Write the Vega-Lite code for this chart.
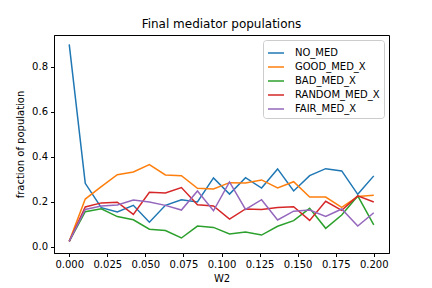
{
  "$schema": "https://vega.github.io/schema/vega-lite/v6.json",
  "width": 335,
  "height": 218,
  "autosize": {"type": "none"},
  "padding": {"left": 54, "top": 35, "right": 43, "bottom": 35},
  "background": "white",
  "title": {"text": "Final mediator populations", "fontSize": 12, "fontWeight": "normal", "font": "DejaVu Sans", "color": "black", "offset": 4},
  "data": {"values": [
    {"W2": 0, "NO_MED": 0.9, "GOOD_MED_X": 0.025, "BAD_MED_X": 0.025, "RANDOM_MED_X": 0.025, "FAIR_MED_X": 0.025},
    {"W2": 0.010526, "NO_MED": 0.283, "GOOD_MED_X": 0.213, "BAD_MED_X": 0.157, "RANDOM_MED_X": 0.178, "FAIR_MED_X": 0.167},
    {"W2": 0.021053, "NO_MED": 0.175, "GOOD_MED_X": 0.268, "BAD_MED_X": 0.17, "RANDOM_MED_X": 0.196, "FAIR_MED_X": 0.182},
    {"W2": 0.031579, "NO_MED": 0.156, "GOOD_MED_X": 0.321, "BAD_MED_X": 0.135, "RANDOM_MED_X": 0.199, "FAIR_MED_X": 0.187},
    {"W2": 0.042105, "NO_MED": 0.185, "GOOD_MED_X": 0.333, "BAD_MED_X": 0.121, "RANDOM_MED_X": 0.145, "FAIR_MED_X": 0.209},
    {"W2": 0.052632, "NO_MED": 0.11, "GOOD_MED_X": 0.366, "BAD_MED_X": 0.079, "RANDOM_MED_X": 0.243, "FAIR_MED_X": 0.2},
    {"W2": 0.063158, "NO_MED": 0.185, "GOOD_MED_X": 0.32, "BAD_MED_X": 0.073, "RANDOM_MED_X": 0.24, "FAIR_MED_X": 0.185},
    {"W2": 0.073684, "NO_MED": 0.21, "GOOD_MED_X": 0.317, "BAD_MED_X": 0.04, "RANDOM_MED_X": 0.264, "FAIR_MED_X": 0.164},
    {"W2": 0.084211, "NO_MED": 0.2, "GOOD_MED_X": 0.261, "BAD_MED_X": 0.093, "RANDOM_MED_X": 0.188, "FAIR_MED_X": 0.249},
    {"W2": 0.094737, "NO_MED": 0.307, "GOOD_MED_X": 0.258, "BAD_MED_X": 0.087, "RANDOM_MED_X": 0.182, "FAIR_MED_X": 0.161},
    {"W2": 0.105263, "NO_MED": 0.235, "GOOD_MED_X": 0.286, "BAD_MED_X": 0.058, "RANDOM_MED_X": 0.124, "FAIR_MED_X": 0.289},
    {"W2": 0.115789, "NO_MED": 0.308, "GOOD_MED_X": 0.284, "BAD_MED_X": 0.067, "RANDOM_MED_X": 0.169, "FAIR_MED_X": 0.167},
    {"W2": 0.126316, "NO_MED": 0.262, "GOOD_MED_X": 0.298, "BAD_MED_X": 0.053, "RANDOM_MED_X": 0.167, "FAIR_MED_X": 0.21},
    {"W2": 0.136842, "NO_MED": 0.347, "GOOD_MED_X": 0.262, "BAD_MED_X": 0.092, "RANDOM_MED_X": 0.175, "FAIR_MED_X": 0.12},
    {"W2": 0.147368, "NO_MED": 0.249, "GOOD_MED_X": 0.29, "BAD_MED_X": 0.117, "RANDOM_MED_X": 0.179, "FAIR_MED_X": 0.159},
    {"W2": 0.157895, "NO_MED": 0.317, "GOOD_MED_X": 0.222, "BAD_MED_X": 0.172, "RANDOM_MED_X": 0.118, "FAIR_MED_X": 0.164},
    {"W2": 0.168421, "NO_MED": 0.348, "GOOD_MED_X": 0.222, "BAD_MED_X": 0.083, "RANDOM_MED_X": 0.203, "FAIR_MED_X": 0.136},
    {"W2": 0.178947, "NO_MED": 0.338, "GOOD_MED_X": 0.176, "BAD_MED_X": 0.142, "RANDOM_MED_X": 0.163, "FAIR_MED_X": 0.169},
    {"W2": 0.189474, "NO_MED": 0.234, "GOOD_MED_X": 0.224, "BAD_MED_X": 0.227, "RANDOM_MED_X": 0.227, "FAIR_MED_X": 0.093},
    {"W2": 0.2, "NO_MED": 0.316, "GOOD_MED_X": 0.23, "BAD_MED_X": 0.098, "RANDOM_MED_X": 0.2, "FAIR_MED_X": 0.152}
  ]},
  "transform": [
    {"fold": ["NO_MED", "GOOD_MED_X", "BAD_MED_X", "RANDOM_MED_X", "FAIR_MED_X"], "as": ["series", "value"]}
  ],
  "mark": {"type": "line", "strokeWidth": 1.5, "clip": true},
  "encoding": {
    "x": {
      "field": "W2", "type": "quantitative",
      "scale": {"domain": [-0.01, 0.21], "nice": false, "zero": false},
      "axis": {"values": [0, 0.025, 0.05, 0.075, 0.1, 0.125, 0.15, 0.175, 0.2], "format": ".3f", "title": "W2"}
    },
    "y": {
      "field": "value", "type": "quantitative",
      "scale": {"domain": [-0.0267, 0.942], "nice": false, "zero": false},
      "axis": {"values": [0, 0.2, 0.4, 0.6, 0.8], "format": ".1f", "title": "fraction of population"}
    },
    "color": {
      "field": "series", "type": "nominal",
      "scale": {"domain": ["NO_MED", "GOOD_MED_X", "BAD_MED_X", "RANDOM_MED_X", "FAIR_MED_X"], "range": ["#1f77b4", "#ff7f0e", "#2ca02c", "#d62728", "#9467bd"]},
      "legend": {
        "title": null, "orient": "none", "legendX": 209, "legendY": 5,
        "symbolType": "stroke", "symbolSize": 256, "symbolStrokeWidth": 1.5,
        "labelFontSize": 10, "labelFont": "DejaVu Sans", "labelColor": "black",
        "rowPadding": 0, "padding": 4, "strokeColor": "#cccccc", "fillColor": "white", "cornerRadius": 3,
        "labelOffset": 10
      }
    }
  },
  "config": {
    "font": "DejaVu Sans",
    "view": {"stroke": "black", "strokeWidth": 1},
    "axis": {
      "grid": false, "domainColor": "black", "tickColor": "black", "tickSize": 3.5,
      "labelFontSize": 10, "labelColor": "black", "labelFont": "DejaVu Sans",
      "titleFontSize": 10, "titleFontWeight": "normal", "titleColor": "black", "titleFont": "DejaVu Sans",
      "labelPadding": 3
    },
    "axisX": {"titlePadding": 4, "labelAngle": 0},
    "axisY": {"titlePadding": 6}
  }
}
